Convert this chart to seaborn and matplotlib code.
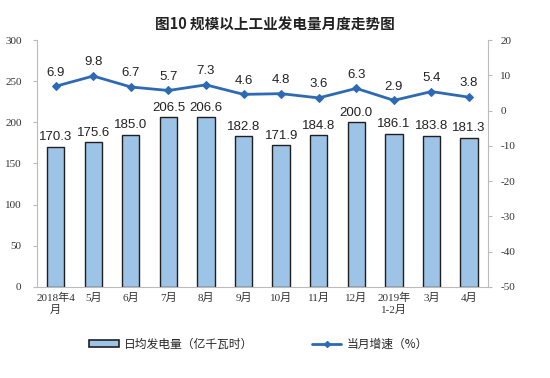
import numpy as np
import pandas as pd
import matplotlib
matplotlib.use("Agg")
import matplotlib.pyplot as plt
import seaborn as sns
from matplotlib.patches import Rectangle
from matplotlib.lines import Line2D

# ── Data ──────────────────────────────────────────────────────────────────────
months = ["2018年4\n月", "5月", "6月", "7月", "8月", "9月", "10月", "11月",
          "12月", "2019年\n1-2月", "3月", "4月"]
daily_output = [170.3, 175.6, 185.0, 206.5, 206.6, 182.8, 171.9, 184.8,
                200.0, 186.1, 183.8, 181.3]
growth_rate = [6.9, 9.8, 6.7, 5.7, 7.3, 4.6, 4.8, 3.6, 6.3, 2.9, 5.4, 3.8]

BAR_COLOR  = "#9DC3E6"
EDGE_COLOR = "#1F1F1F"
LINE_COLOR = "#2E6AB4"
SERIF = ["Liberation Serif", "Noto Sans CJK SC"]
SANS  = ["Liberation Sans", "Noto Sans CJK SC"]

sns.set_style("white")
plt.rcParams["font.family"] = ["Noto Sans CJK SC", "DejaVu Sans"]
plt.rcParams["axes.unicode_minus"] = False

df = pd.DataFrame({"month": months, "output": daily_output,
                   "growth": growth_rate, "pos": np.arange(len(months))})

fig = plt.figure(figsize=(5.5, 3.78), dpi=100)
ax = fig.add_axes([0.067, 0.241, 0.82, 0.653])

sns.barplot(data=df, x="month", y="output", color=BAR_COLOR, width=0.46,
            edgecolor=EDGE_COLOR, linewidth=1.0, saturation=1, ax=ax)
for i, v in enumerate(daily_output):
    ax.text(i, v + 4, f"{v:.1f}", ha="center", va="bottom",
            fontsize=9.5, family=SANS, color="#222222")

ax.set_ylim(0, 300)
ax.set_yticks(range(0, 301, 50))
ax.set_xlim(-0.5, len(months) - 0.5)
ax.set_xlabel("")
ax.set_ylabel("")

ax2 = ax.twinx()
sns.lineplot(data=df, x="pos", y="growth", color=LINE_COLOR, linewidth=2,
             marker="D", markersize=4, markeredgecolor=LINE_COLOR, ax=ax2)
for i, v in enumerate(growth_rate):
    ax2.text(i, v + 2.2, f"{v:.1f}", ha="center", va="bottom",
             fontsize=9.5, family=SANS, color="#222222")
ax2.set_ylim(-50, 20)
ax2.set_yticks(range(-50, 21, 10))
ax2.set_xlim(-0.5, len(months) - 0.5)
ax2.set_xlabel("")
ax2.set_ylabel("")

# ── Axes styling ──────────────────────────────────────────────────────────────
for a in (ax, ax2):
    for s in a.spines.values():
        s.set_visible(False)
ax.spines["left"].set_visible(True)
ax.spines["left"].set_color("#BBBBBB")
ax.spines["bottom"].set_visible(True)
ax.spines["bottom"].set_color("#BBBBBB")
ax2.spines["right"].set_visible(True)
ax2.spines["right"].set_color("#BBBBBB")

ax.tick_params(axis="y", length=3, color="#BBBBBB", labelsize=8, pad=8)
ax2.tick_params(axis="y", length=3, color="#BBBBBB", labelsize=8, pad=6)
ax.set_xticks(range(len(months)))
ax.set_xticklabels(months, fontsize=8, linespacing=1.2)
ax.tick_params(axis="x", length=0, pad=4)
ax.set_xticks(np.arange(-0.5, len(months), 1), minor=True)
ax.tick_params(axis="x", which="minor", length=3, color="#BBBBBB")
for lab in ax.get_yticklabels() + ax2.get_yticklabels() + ax.get_xticklabels():
    lab.set_family(SERIF)
    lab.set_color("#333333")

fig.text(0.5, 0.935, "图10 规模以上工业发电量月度走势图", ha="center",
         va="center", fontsize=10.5, fontweight="bold", color="#222222")

# ── Legend ────────────────────────────────────────────────────────────────────
handles = [Rectangle((0, 0), 1, 1, facecolor=BAR_COLOR, edgecolor=EDGE_COLOR, linewidth=1.2),
           Line2D([0], [0], color=LINE_COLOR, linewidth=2, marker="D", markersize=3)]
fig.legend(handles, ["日均发电量（亿千瓦时）", "当月增速（%）"], loc="center",
           bbox_to_anchor=(0.47, 0.09), ncol=2, frameon=False, fontsize=8.5,
           handlelength=2.5, handleheight=0.5, handletextpad=0.4, columnspacing=5)

fig.savefig("out.png", dpi=100)
